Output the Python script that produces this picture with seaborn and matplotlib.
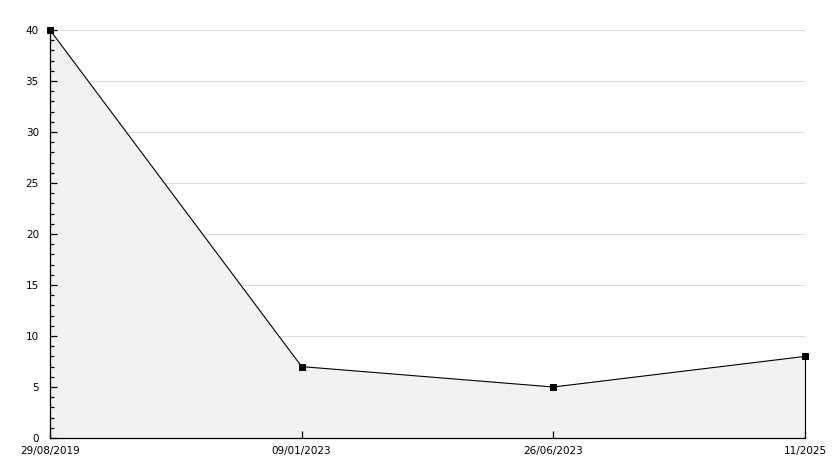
import matplotlib
matplotlib.use("Agg")
import matplotlib.pyplot as plt
import seaborn as sns
import pandas as pd
from matplotlib.ticker import MultipleLocator

# Data
dates = ["29/08/2019", "09/01/2023", "26/06/2023", "11/2025"]
values = [40, 7, 5, 8]
y_grid = [5, 10, 15, 20, 25, 30, 35, 40]

sns.set_style("white")
plt.rcParams['font.family'] = ['DejaVu Sans']

df = pd.DataFrame({"pos": range(len(dates)), "value": values})

fig = plt.figure(figsize=(8.34, 4.68), dpi=100)
ax = fig.add_axes([50 / 834, 1 - 438 / 468, 755 / 834, 408 / 468])

# grid sits below the filled area, ticks stay on top
for g in y_grid:
    ax.axhline(g, color="#dddddd", linewidth=0.8, zorder=0)

ax.fill_between(df["pos"], df["value"], 0, facecolor="#f2f2f2",
                edgecolor="none", zorder=1)
ax.vlines(df["pos"].iloc[-1], 0, df["value"].iloc[-1], color="black",
          linewidth=0.8, zorder=2, clip_on=False)
sns.lineplot(data=df, x="pos", y="value", ax=ax, color="black",
             linewidth=0.8, marker="s", markersize=4,
             markeredgecolor="black", zorder=3, clip_on=False)

ax.set_xlim(0, len(dates) - 1)
ax.set_ylim(0, 40)
ax.yaxis.set_major_locator(MultipleLocator(5))
ax.yaxis.set_minor_locator(MultipleLocator(1))
ax.set_xticks(df["pos"])
ax.set_xticklabels(dates)
ax.grid(False)
ax.set_axisbelow(False)

for s in ["top", "right"]:
    ax.spines[s].set_visible(False)
for s in ["left", "bottom"]:
    ax.spines[s].set_color("black")
    ax.spines[s].set_linewidth(0.9)

ax.tick_params(axis="y", which="major", direction="in", length=5,
               width=0.9, labelsize=7.5, pad=8, left=True, color="black",
               labelcolor="black")
ax.tick_params(axis="y", which="minor", direction="in", length=3,
               width=0.9, left=True, color="black")
ax.tick_params(axis="x", direction="in", length=5, width=0.9,
               labelsize=7.5, pad=6, bottom=True, color="black",
               labelcolor="black")
ax.set_xlabel("")
ax.set_ylabel("")

fig.savefig("out.png", dpi=100)
plt.close(fig)
